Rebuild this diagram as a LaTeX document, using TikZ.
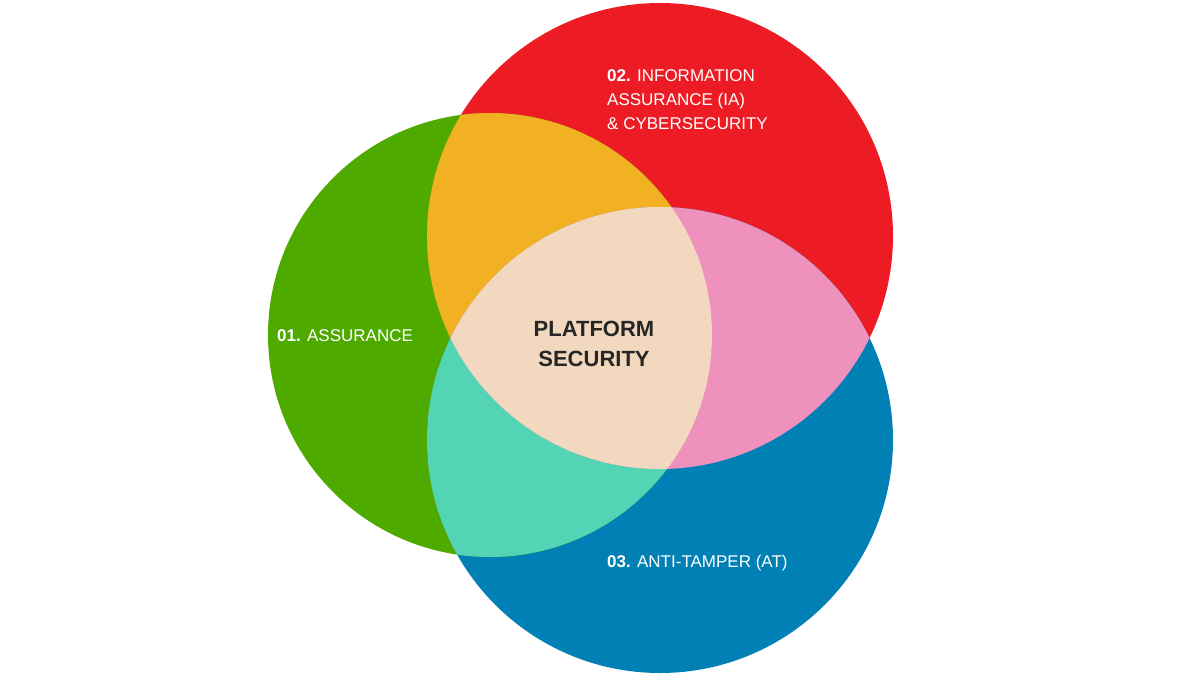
\documentclass[tikz,border=0pt]{standalone}
\usepackage{fontspec}
\setmainfont{Liberation Sans}
\definecolor{cg}{HTML}{4FAA00}
\definecolor{cr}{HTML}{ED1C24}
\definecolor{cb}{HTML}{0080B4}
\definecolor{co}{HTML}{F2B122}
\definecolor{ct}{HTML}{52D4B5}
\definecolor{cp}{HTML}{EE91BD}
\definecolor{cc}{HTML}{F2D8BE}
\begin{document}
\begin{tikzpicture}[x=1pt,y=-1pt,
  lbl/.style={text=white,font=\fontsize{17}{24}\selectfont,align=left,inner sep=0pt}]
\useasboundingbox (0,0) rectangle (1200,675);
\fill[white] (0,0) rectangle (1200,675);
\def\G{(490,335) circle (222)}
\def\R{(660,236) circle (233)}
\def\B{(660,440) circle (233)}
\fill[cr] \R;
\fill[cb] \B;
\fill[cg] \G;
\begin{scope}\clip \G; \fill[co] \R; \fill[ct] \B; \end{scope}
\begin{scope}\clip \R; \fill[cp] \B; \end{scope}
\begin{scope}\clip \G; \clip \R; \fill[cc] \B; \end{scope}
\node[lbl,anchor=west] (l1) at (277,336) {\textbf{01.} ASSURANCE};
\node[lbl,anchor=north west] (l2) at (607,69) {\textbf{02.} INFORMATION\\ASSURANCE (IA)\\\& CYBERSECURITY};
\node[lbl,anchor=west] (l3) at (607,563) {\textbf{03.} ANTI-TAMPER (AT)};
\node[text=black!85,font=\bfseries\fontsize{22}{30}\selectfont,align=center] (c) at (594,344) {PLATFORM\\SECURITY};
\end{tikzpicture}
\end{document}
